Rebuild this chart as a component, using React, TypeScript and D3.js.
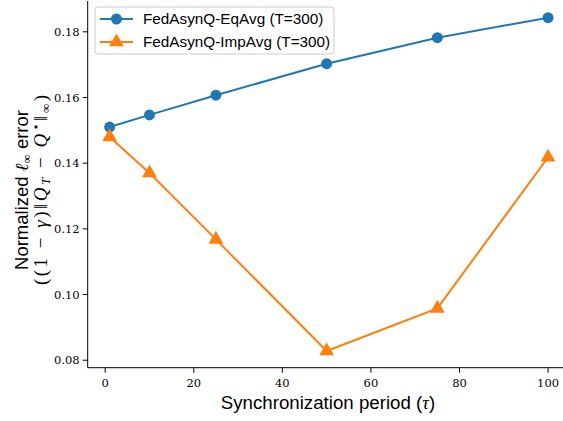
import React from "react";
import * as d3 from "d3";

const taus = [1, 10, 25, 50, 75, 100];
const eqAvg = [0.151, 0.1547, 0.1607, 0.1703, 0.1782, 0.1843];
const impAvg = [0.148, 0.137, 0.1168, 0.0828, 0.0958, 0.1418];
const xTicks = [0, 20, 40, 60, 80, 100];
const yTicks = [0.08, 0.1, 0.12, 0.14, 0.16, 0.18];
const seriesNames = ["FedAsynQ-EqAvg (T=300)", "FedAsynQ-ImpAvg (T=300)"];
const colors = ["#1f77b4", "#ff7f0e"];

const W = 563, H = 421;
const left = 87.7, right = 570, top = 1, bottom = 367.7;
const SANS = "'Liberation Sans', Arial, Helvetica, sans-serif";
const SERIF = "'DejaVu Serif', 'Liberation Serif', serif";
const MATH = "'Liberation Serif', 'DejaVu Serif', serif";

export default function App() {
  const x = d3.scaleLinear().domain([-3.95, 104.95]).range([left, right]);
  const y = d3.scaleLinear().domain([0.07773, 0.18938]).range([bottom, top]);
  const line = d3.line<number>().x((_, i) => x(taus[i])).y((d) => y(d));
  const tri = d3.symbol().type(d3.symbolTriangle).size(95)();

  return (
    <svg width={W} height={H} style={{ position: "absolute", left: 0, top: 0, background: "#fff" }}>
      <line x1={left} x2={left} y1={top} y2={bottom} stroke="#000" strokeWidth={1} />
      <line x1={left} x2={W} y1={bottom} y2={bottom} stroke="#000" strokeWidth={1} />
      {yTicks.map((t) => (
        <g key={t}>
          <line x1={left - 5} x2={left} y1={y(t)} y2={y(t)} stroke="#000" strokeWidth={1} />
          <text x={left - 8} y={y(t)} dy="0.35em" textAnchor="end" fontFamily={SERIF} fontSize={11.5}>
            {t.toFixed(2)}
          </text>
        </g>
      ))}
      {xTicks.map((t) => (
        <g key={t}>
          <line x1={x(t)} x2={x(t)} y1={bottom} y2={bottom + 5} stroke="#000" strokeWidth={1} />
          <text x={x(t)} y={bottom + 19} textAnchor="middle" fontFamily={SERIF} fontSize={11.5}>
            {t}
          </text>
        </g>
      ))}
      <path d={line(eqAvg) || ""} fill="none" stroke={colors[0]} strokeWidth={2} />
      <path d={line(impAvg) || ""} fill="none" stroke={colors[1]} strokeWidth={2} />
      {eqAvg.map((v, i) => (
        <circle key={i} cx={x(taus[i])} cy={y(v)} r={5.5} fill={colors[0]} />
      ))}
      {impAvg.map((v, i) => (
        <path key={i} d={tri || ""} transform={`translate(${x(taus[i])},${y(v)})`} fill={colors[1]} />
      ))}
      <text x={328} y={409} textAnchor="middle" fontFamily={SANS} fontSize={18.7}>
        Synchronization period (<tspan fontFamily={MATH} fontStyle="italic">τ</tspan>)
      </text>
      <g transform="translate(28,190) rotate(-90)">
        <text x={0} y={0} textAnchor="middle" fontFamily={SANS} fontSize={18.5}>
          Normalized <tspan fontFamily={MATH} fontStyle="italic">ℓ</tspan>
          <tspan fontFamily={MATH} fontSize={13} dy={3}>∞</tspan>
          <tspan dy={-3}> error</tspan>
        </text>
        <text x={0} y={19} textAnchor="middle" fontFamily={MATH} fontSize={19} textLength={190} lengthAdjust="spacing">
          ((1 − <tspan fontStyle="italic">γ</tspan>)‖<tspan fontStyle="italic">Q</tspan>
          <tspan fontStyle="italic" fontSize={13} dy={3}>T</tspan>
          <tspan dy={-3}> − </tspan>
          <tspan fontStyle="italic">Q</tspan>
          <tspan fontSize={13} dy={-7}>⋆</tspan>
          <tspan dy={7}>‖</tspan>
          <tspan fontSize={13} dy={3}>∞</tspan>
          <tspan dy={-3}>)</tspan>
        </text>
      </g>
      <g>
        <rect x={95} y={7} width={239} height={47} rx={3} fill="#fff" fillOpacity={0.8} stroke="#ccc" strokeWidth={1} />
        {seriesNames.map((name, i) => {
          const cy = 19 + i * 23;
          return (
            <g key={name}>
              <line x1={100} x2={133} y1={cy} y2={cy} stroke={colors[i]} strokeWidth={2} />
              {i === 0 ? (
                <circle cx={116.5} cy={cy} r={5.5} fill={colors[0]} />
              ) : (
                <path d={tri || ""} transform={`translate(116.5,${cy})`} fill={colors[1]} />
              )}
              <text x={143} y={cy} dy="0.35em" fontFamily={SANS} fontSize={15.3}>
                {name}
              </text>
            </g>
          );
        })}
      </g>
    </svg>
  );
}
